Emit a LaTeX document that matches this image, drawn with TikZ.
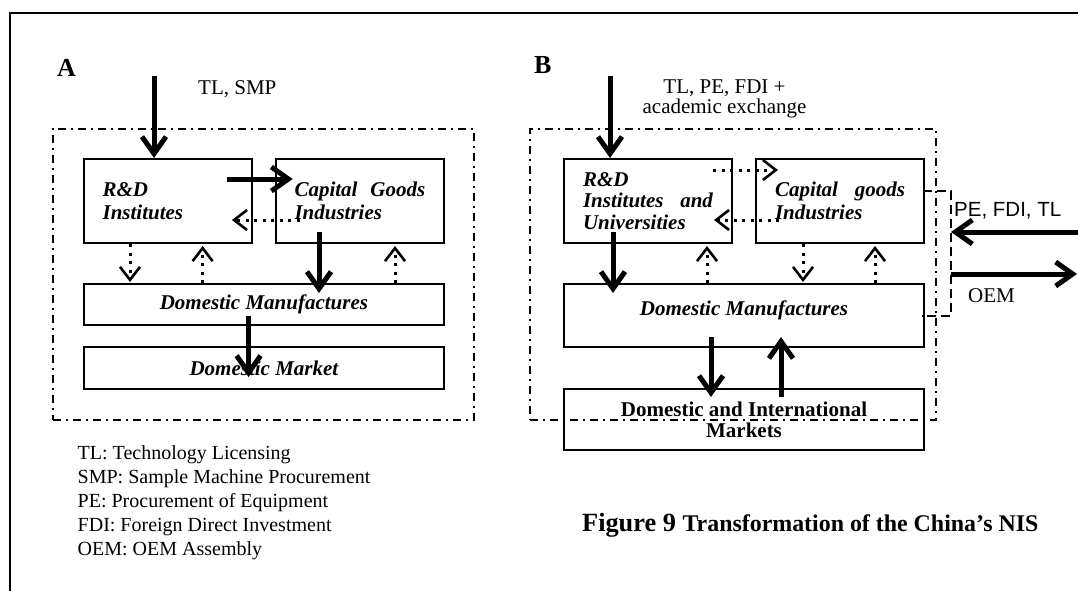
\documentclass[tikz,border=0pt]{standalone}
\usepackage{fontspec}
\setmainfont{Liberation Serif}
\newfontfamily\arialf{Liberation Sans}
\usetikzlibrary{arrows.meta,calc}
\tikzset{
  px/.style={x=1pt,y=-1pt},
  frame/.style={line width=2pt},
  sysbox/.style={draw, line width=2pt, dash pattern=on 8pt off 5pt on 2pt off 5pt,
    anchor=north west, inner sep=0pt},
  box/.style={draw, line width=2pt, anchor=north west, inner xsep=19pt, inner ysep=2pt,
    font=\fontsize{21}{23}\selectfont\bfseries\itshape},
  twobox/.style={box, text width=130pt, align=left, minimum height=84pt},
  bigarrow/.style={line width=5pt, -{Straight Barb[length=17pt,width=24pt]}},
  dotarrow/.style={line width=3pt, dash pattern=on 3pt off 5.5pt,
    -{Straight Barb[length=13pt,width=20pt,line width=2.6pt]}},
  bracket/.style={line width=1.6pt, dash pattern=on 9pt off 5pt},
  txt/.style={font=\fontsize{21}{23}\selectfont, inner sep=0pt},
  panel/.style={font=\fontsize{26}{26}\selectfont\bfseries, inner sep=0pt, anchor=base west},
}
\begin{document}
\begin{tikzpicture}[px]
\useasboundingbox (0,0) rectangle (1078,590);
% outer frame (only top and left visible)
\draw[frame] (1082,13) -- (10,13) -- (10,594);

%%%%%%%%%% Panel A
\node[panel] (labA) at (57,76) {A};
\node[sysbox, minimum width=421.3pt, minimum height=291pt] (sysA) at (51.7,128) {};
\node[twobox] (rdA) at (82.6,158) {R\&D\\Institutes};
\node[twobox, minimum width=168.7pt, text width=130.7pt] (cgA) at (274.5,158) {Capital\hfill Goods\\Industries};
\node[box, minimum width=360.6pt, minimum height=41pt] (dmA) at (82.6,283) {Domestic Manufactures};
\node[box, minimum width=360.6pt, minimum height=42pt] (mkA) at (82.6,346) {Domestic Market};
\node[txt, anchor=base west] (tlA) at (198,94) {TL, SMP};
\coordinate (inA) at (154,76);

\draw[bigarrow] (inA) -- (inA |- rdA.north);
\draw[bigarrow] ($(rdA.north west)+(144,21)$) -- ($(cgA.north west)+(18.2,21)$);
\draw[dotarrow] ($(cgA.north west)+(25,62)$) -- ($(rdA.north east)+(-20.7,62)$);
\draw[dotarrow] ($(rdA.south west)+(47.4,0)$) -- ($(dmA.north west)+(47.4,-1)$);
\draw[dotarrow] ($(dmA.north west)+(120,0)$) -- ($(rdA.south west)+(120,2)$);
\draw[dotarrow] ($(dmA.north west)+(312.4,0)$) -- ($(cgA.south west)+(120.5,2)$);
\draw[bigarrow] ($(cgA.north west)+(44.5,74)$) -- ($(dmA.north west)+(236.4,10)$);
\draw[bigarrow] ($(dmA.north west)+(166,33)$) -- ($(mkA.north west)+(166,31)$);

\node[anchor=north west, inner sep=0pt, align=left, font=\fontsize{20}{24.1}\selectfont] (legend) at (77.5,445) {TL: Technology Licensing\\SMP: Sample Machine Procurement\\PE: Procurement of Equipment\\FDI: Foreign Direct Investment\\OEM: OEM Assembly};

%%%%%%%%%% Panel B
\node[panel] (labB) at (534,73) {B};
\node[sysbox, minimum width=406pt, minimum height=291pt] (sysB) at (529,128) {};
\node[twobox, font=\fontsize{21}{21.5}\selectfont\bfseries\itshape] (rdB) at (563,158) {R\&D\\Institutes\hfill and\\Universities};
\node[twobox] (cgB) at (755,158) {Capital\hfill goods\\Industries};
\node[box, minimum width=360pt, minimum height=63pt, text height=15pt, text depth=15pt] (dmB) at (563,283) {Domestic Manufactures};
\node[box, minimum width=360pt, minimum height=61pt, align=center, font=\fontsize{21}{21}\selectfont\bfseries] (mkB) at (563,388) {Domestic and International\\Markets};
\node[txt, anchor=north, align=center, font=\fontsize{21}{20}\selectfont] (tlB) at (724.5,80) {TL, PE, FDI +\\academic exchange};
\coordinate (inB) at (610,76);

\draw[bigarrow] (inB) -- (inB |- rdB.north);
\draw[dotarrow] ($(rdB.north east)+(-20,12)$) -- ($(cgB.north west)+(23,12)$);
\draw[dotarrow] ($(cgB.north west)+(24,62)$) -- ($(rdB.north east)+(-19,62)$);
\draw[bigarrow] ($(rdB.north west)+(50,74)$) -- ($(dmB.north west)+(50,10)$);
\draw[dotarrow] ($(dmB.north west)+(144,0)$) -- ($(rdB.south west)+(144,2)$);
\draw[dotarrow] ($(cgB.south west)+(48,0)$) -- ($(dmB.north west)+(240,-1)$);
\draw[dotarrow] ($(dmB.north west)+(312,0)$) -- ($(cgB.south west)+(120,2)$);
\draw[bigarrow] ($(dmB.north west)+(148,54)$) -- ($(mkB.north west)+(148,9)$);
\draw[bigarrow] ($(mkB.north west)+(218,9)$) -- ($(dmB.north west)+(218,54)$);

% external links
\draw[bracket] ($(cgB.north east)+(-2,32.7)$) -| ($(dmB.north east)+(26,33)$) -- ($(dmB.north east)+(-3,33)$);
\coordinate (extIn) at (1080,232);
\coordinate (extInTip) at (951,232);
\coordinate (extOutStart) at (951,274);
\coordinate (extOut) at (1077,274);
\draw[bigarrow] (extIn) -- (extInTip);
\draw[bigarrow] (extOutStart) -- (extOut);
\node[inner sep=0pt, anchor=base west, font=\arialf\fontsize{20.5}{22}\selectfont] (extLab) at (954,216.7) {PE, FDI, TL};
\node[txt, anchor=base west] (oemLab) at (968,302.7) {OEM};

% caption
\node[inner sep=0pt, anchor=base west, font=\bfseries] (cap) at (582,531.7) {\fontsize{26.3}{28}\selectfont Figure 9 \fontsize{23.9}{28}\selectfont Transformation of the China’s NIS};
\end{tikzpicture}
\end{document}
